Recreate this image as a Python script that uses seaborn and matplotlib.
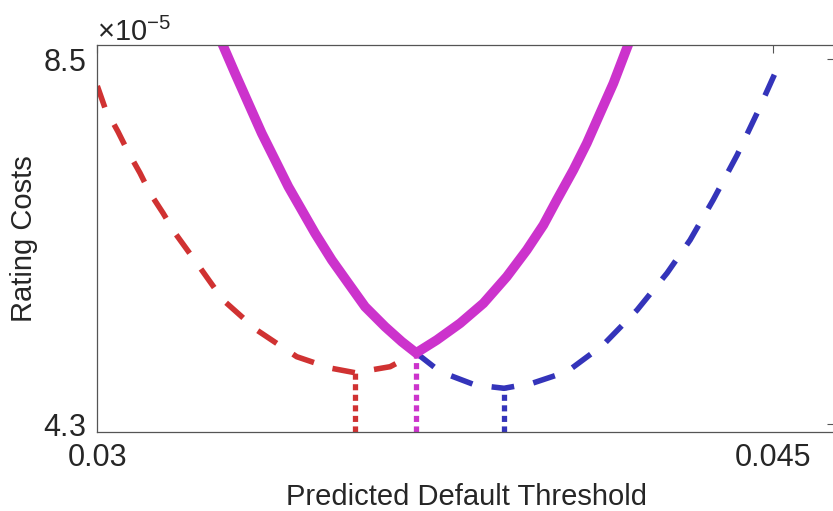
import numpy as np
import matplotlib
matplotlib.use("Agg")
import matplotlib.pyplot as plt
import seaborn as sns
from matplotlib.ticker import ScalarFormatter

# values (costs in units of 1e-5)
red_x = [0.03000, 0.030171, 0.030460, 0.030682, 0.030948, 0.031170, 0.031459, 0.031726,
         0.032208, 0.032792, 0.033540, 0.034428, 0.035168, 0.035723, 0.036501, 0.03708]
red_y = [8.190, 7.937, 7.664, 7.434, 7.189, 6.959, 6.729, 6.499,
         6.154, 5.729, 5.384, 5.077, 4.947, 4.893, 4.962, 5.120]

blue_x = [0.03708, 0.037611, 0.038388, 0.039032, 0.039676, 0.040431, 0.041231, 0.041986,
          0.042652, 0.043163, 0.043674, 0.044207, 0.044651, 0.045051, 0.045206]
blue_y = [5.120, 4.905, 4.752, 4.714, 4.775, 4.905, 5.212, 5.614,
          6.039, 6.419, 6.879, 7.396, 7.879, 8.339, 8.523]

mag_x = [0.032758, 0.033058, 0.033354, 0.033651, 0.033947, 0.034242, 0.034539, 0.034835,
         0.035206, 0.035574, 0.035945, 0.036389, 0.036760, 0.03708,
         0.037538, 0.038055, 0.038573, 0.039092, 0.039537, 0.039905, 0.040203,
         0.040571, 0.040869, 0.041164, 0.041460, 0.041757, 0.041811]
mag_y = [8.695, 8.336, 7.991, 7.646, 7.339, 7.032, 6.764, 6.496,
         6.189, 5.921, 5.652, 5.422, 5.250, 5.120,
         5.269, 5.461, 5.691, 5.997, 6.304, 6.591, 6.879,
         7.224, 7.531, 7.876, 8.221, 8.623, 8.695]

# minimum points marked with dotted drop lines
min_x = [0.035723, 0.03708, 0.039032]
min_y = [4.893, 5.120, 4.714]
min_colors = ["#D03232", "#CC33CC", "#3434BA"]

x_ticks = [0.03, 0.045]
y_ticks = [4.3, 8.5]
scale = 1e-5

sns.set_theme(style="white")
plt.rcParams["font.family"] = ["Liberation Sans", "DejaVu Sans"]
plt.rcParams["mathtext.fontset"] = "custom"
plt.rcParams["mathtext.rm"] = "Liberation Sans"
plt.rcParams["mathtext.it"] = "Liberation Sans"

fig = plt.figure(figsize=(8.33, 5.11), dpi=100)
ax = fig.add_axes([97.3 / 833, 79.3 / 511, (835 - 97.3) / 833, (431.7 - 45) / 511])

ylo, yhi = 4.2147 * scale, 8.661 * scale

sns.lineplot(x=red_x, y=np.array(red_y) * scale, ax=ax, color="#D03232", lw=4.0,
             linestyle=(0, (4.1, 3.5)), estimator=None, sort=False)
sns.lineplot(x=blue_x, y=np.array(blue_y) * scale, ax=ax, color="#3434BA", lw=4.0,
             linestyle=(0, (4.1, 3.5)), estimator=None, sort=False)
sns.lineplot(x=mag_x, y=np.array(mag_y) * scale, ax=ax, color="#CC33CC", lw=7.0,
             estimator=None, sort=False, solid_joinstyle="miter")

for mx, my, c in zip(min_x, min_y, min_colors):
    ax.vlines(mx, ylo, my * scale, colors=c, lw=3.8, linestyles=(0, (1.15, 0.85)))

ax.set_xlim(0.03, 0.04638)
ax.set_ylim(ylo, yhi)
ax.set_xticks(x_ticks)
ax.set_xticklabels(["0.03", "0.045"])
ax.set_yticks([v * scale for v in y_ticks])

fmt = ScalarFormatter(useMathText=True)
fmt.set_powerlimits((0, 0))
ax.yaxis.set_major_formatter(fmt)
ax.yaxis.get_offset_text().set_fontsize(21)
ax.yaxis.get_offset_text().set_color("#262626")

ax.tick_params(direction="in", length=6, width=0.8, colors="#555555", labelcolor="#262626",
               labelsize=22, top=True, right=True, pad=8)
for sp in ax.spines.values():
    sp.set_color("#555555")
    sp.set_linewidth(0.9)

ax.set_xlabel("Predicted Default Threshold", fontsize=21, color="#262626", labelpad=7)
ax.set_ylabel("Rating Costs", fontsize=21, color="#262626", labelpad=4)

fig.savefig("out.png", dpi=100)
